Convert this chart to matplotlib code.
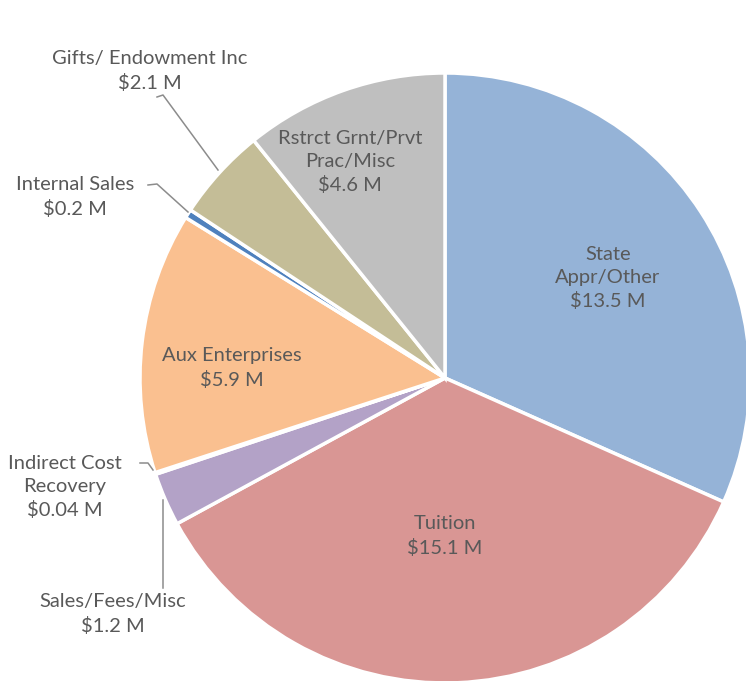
import matplotlib
matplotlib.use("Agg")
import matplotlib.pyplot as plt

# slice data, clockwise from 12 o'clock
names = ["State\nAppr/Other", "Tuition", "Sales/Fees/Misc", "Indirect Cost\nRecovery",
         "Aux Enterprises", "Internal Sales", "Gifts/ Endowment Inc", "Rstrct Grnt/Prvt\nPrac/Misc"]
values = [13.5, 15.1, 1.2, 0.04, 5.9, 0.2, 2.1, 4.6]
colors = ["#95B3D7", "#D99694", "#B3A2C7", "#93CDDD", "#FAC090", "#4F81BD", "#C4BD97", "#BFBFBF"]

# label centres in pixel coords (top-left origin)
label_xy = [(608, 278), (445, 536), (113, 614), (65, 487),
            (232, 368), (75, 197), (150, 71), (350, 162)]

W, H = 746, 681
plt.rcParams['font.family'] = ['Lato', 'DejaVu Sans']

fig = plt.figure(figsize=(W / 100, H / 100), dpi=100)
ax = fig.add_axes([0, 0, 1, 1])

cx, cy, r = 445, H - 378, 305
ax.pie(values, colors=colors, startangle=90, counterclock=False,
       center=(cx, cy), radius=r, frame=True,
       wedgeprops=dict(edgecolor='white', linewidth=2.5))
ax.set_xlim(0, W)
ax.set_ylim(0, H)
ax.set_aspect('equal')
ax.axis('off')

for name, v, (x, y) in zip(names, values, label_xy):
    ax.text(x, H - y, f"{name}\n${v:g} M", ha='center', va='center',
            fontsize=14.5, color='#595959', linespacing=1.42)

# leader lines
leaders = [
    [(157, 97), (163, 95), (218, 170)],    # gifts
    [(148, 185), (157, 184), (188, 212)],  # internal sales
    [(140, 463), (148, 463), (153, 470)],  # indirect cost
    [(163, 500), (163, 588)],              # sales/fees
]
for pts in leaders:
    xs = [p[0] for p in pts]
    ys = [H - p[1] for p in pts]
    ax.plot(xs, ys, color='#8C8C8C', linewidth=1.1)

fig.savefig("out.png", dpi=100)
